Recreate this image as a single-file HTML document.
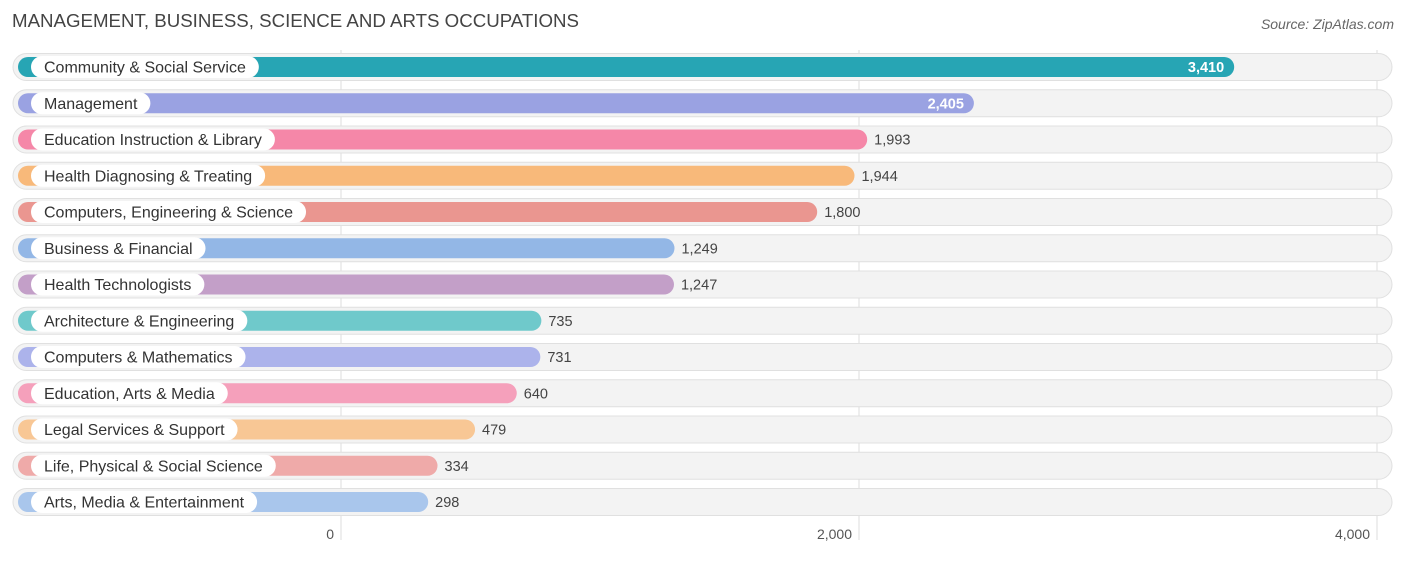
<!DOCTYPE html>
<html><head><meta charset="utf-8"><style>
body{margin:0;background:#fff;width:1406px;height:558px;overflow:hidden;font-family:"Liberation Sans",sans-serif}
</style></head><body>
<svg id="chart" width="1406" height="558" xmlns="http://www.w3.org/2000/svg">
<text x="12" y="27" font-size="18.7" fill="#444">MANAGEMENT, BUSINESS, SCIENCE AND ARTS OCCUPATIONS</text>
<text x="1394" y="29" font-size="14" fill="#666" font-style="italic" text-anchor="end">Source: ZipAtlas.com</text>
<g id="grid"></g><g id="rows"></g><g id="ticks"></g>
</svg>
<script>
const categories=["Community & Social Service","Management","Education Instruction & Library","Health Diagnosing & Treating","Computers, Engineering & Science","Business & Financial","Health Technologists","Architecture & Engineering","Computers & Mathematics","Education, Arts & Media","Legal Services & Support","Life, Physical & Social Science","Arts, Media & Entertainment"];
const values=[3410,2405,1993,1944,1800,1249,1247,735,731,640,479,334,298];
const colors=["#27a5b4","#9aa2e2","#f587a8","#f8b97a","#ea9690","#93b7e6","#c39fc8","#6fc9cb","#acb3eb","#f5a0bb","#f8c795","#efaaa9","#a9c6ec"];
const tickValues=[0,2000,4000];
const tickLabels=["0","2,000","4,000"];
const NS="http://www.w3.org/2000/svg";
function x(v){return 341+v*0.259;}
function y(i){return 67+i*36.25;}
function mk(tag,attrs,parent){const e=document.createElementNS(NS,tag);for(const k in attrs)e.setAttribute(k,attrs[k]);parent.appendChild(e);return e;}
const grid=document.getElementById('grid'),rows=document.getElementById('rows'),ticks=document.getElementById('ticks');
tickValues.forEach((t,i)=>{
  const l=mk('line',{x1:x(t),x2:x(t),y1:50,y2:540,stroke:'#ddd','stroke-width':1},grid);
  
  
  const tx=mk('text',{x:x(t)-7,y:539,'font-size':14,fill:'#555','text-anchor':'end'},ticks);
  tx.textContent=tickLabels[i];
  
  
});
categories.forEach((c,i)=>{
  const cy=y(i);
  const g=mk('g',{},rows);
  
  
  mk('rect',{x:13,y:cy-13.5,width:1379,height:27,rx:13.5,fill:'#f3f3f3',stroke:'#e0e0e0'},g);
  const end=x(values[i])+10;
  const b=mk('rect',{x:18,y:cy-10,width:end-18,height:20,rx:10,fill:colors[i]},g);
  
  
  const lab=mk('text',{x:44,y:cy+5.5,'font-size':16,fill:'#333'},g);
  lab.textContent=c;
  
  
  const w=lab.getComputedTextLength();
  const pill=mk('rect',{x:31,y:cy-11,width:w+26,height:22,rx:11,fill:'#fff'},g);
  g.insertBefore(pill,lab);
  const inside=values[i]>2200;
  const vt=mk('text',{x:inside?end-10:end+7,y:cy+5,'font-size':14.5,fill:inside?'#fff':'#444','text-anchor':inside?'end':'start','font-weight':inside?'bold':'normal'},g);
  vt.textContent=values[i].toLocaleString('en-US');
  
  
});
</script>
</body></html>
